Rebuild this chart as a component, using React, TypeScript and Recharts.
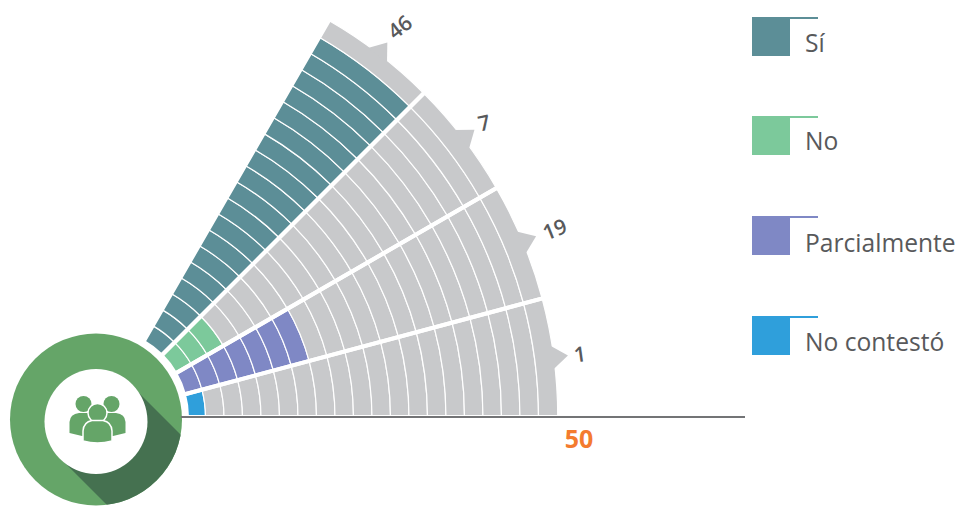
import React from "react";
import { PieChart, Pie } from "recharts";

// Survey answers, from the bottom wedge of the fan to the top one
const categories = ["No contestó", "Parcialmente", "No", "Sí"];
const answers = [1, 19, 7, 46];
const filledRings = [1, 7, 3, 19];
const wedgeColors = ["#2f9fdb", "#7f88c5", "#7cc99b", "#5c8e97"];
const labelTilt = [-8, -22, -12, -38];

const legendOrder = ["Sí", "No", "Parcialmente", "No contestó"];
const legendColors = ["#5c8e97", "#7cc99b", "#7f88c5", "#2f9fdb"];
const legendTop = [17, 116, 216, 316];
const legendBaseline = [52, 150, 252, 351];

const scaleMaxLabel = "50";
const RING_COUNT = 20;

const FONT = "'Open Sans', sans-serif";
const TEXT = "#58595b";
const EMPTY = "#c8c9cb";
const HUB = "#65a568";
const HUB_SHADOW = "#457150";

const FAN_X = 100;
const FAN_Y = 417;
const FAN_INNER = 87;
const RING_WIDTH = 18.5;
const FAN_OUTER = FAN_INNER + RING_COUNT * RING_WIDTH;

const polar = (r: number, deg: number) => ({
  x: FAN_X + r * Math.cos((deg * Math.PI) / 180),
  y: FAN_Y - r * Math.sin((deg * Math.PI) / 180),
});

const ringIndexes = Array.from({ length: RING_COUNT }, (_, i) => i);

const ringData = (ring: number) =>
  categories.map((name, i) => ({
    name,
    slot: 1,
    fill: ring < filledRings[i] ? wedgeColors[i] : EMPTY,
  }));

const dividerData = categories.map((name, i) => ({
  name,
  slot: 1,
  answer: answers[i],
  fill: "none",
}));

// Pointer on the outer arc with the answer count just beyond it.
// The baseline goes with the first pointer so that it sits above the wedge dividers.
const renderPointer = (props: any) => {
  const { midAngle, index } = props;
  const halfBase = (12 / FAN_OUTER) * (180 / Math.PI);
  const a = polar(FAN_OUTER - 1, midAngle + halfBase);
  const b = polar(FAN_OUTER - 1, midAngle - halfBase);
  const tip = polar(FAN_OUTER + 15, midAngle);
  const value = String(answers[index]);
  const at = polar(FAN_OUTER + 27 + (value.length - 1) * 8, midAngle);
  return (
    <g key={index}>
      {index === 0 && (
        <line x1={181} y1={FAN_Y} x2={745} y2={FAN_Y} stroke="#737476" strokeWidth={2} />
      )}
      <polygon
        points={`${a.x},${a.y} ${tip.x},${tip.y} ${b.x},${b.y}`}
        fill={EMPTY}
      />
      <text
        x={at.x}
        y={at.y}
        textAnchor="middle"
        dominantBaseline="central"
        transform={`rotate(${labelTilt[index]} ${at.x} ${at.y})`}
        fontFamily={FONT}
        fontSize={21}
        fontWeight={600}
        fill={TEXT}
      >
        {value}
      </text>
    </g>
  );
};

// Group-of-people glyph in the middle of the hub
const PeopleIcon = () => (
  <g fill={HUB}>
    <circle cx={83.5} cy={404} r={8} />
    <circle cx={111.5} cy={404} r={8} />
    <path d="M69.5 433 L69.5 422 Q70 414 79 413 L88 413 Q94 414 96 418 L96 436 L82 436 Z" />
    <path d="M125.5 433 L125.5 422 Q125 414 116 413 L107 413 Q101 414 99 418 L99 436 L113 436 Z" />
    <g stroke="#ffffff" strokeWidth={1.5}>
      <circle cx={97.5} cy={413} r={9.5} />
      <path d="M83 441 L83 431 Q83.5 422 92 420.5 L103 420.5 Q111.5 422 112 431 L112 441 Q97.5 445 83 441 Z" />
    </g>
  </g>
);

export default function App() {
  return (
    <div style={{ position: "absolute", left: 0, top: 0, width: 957, height: 506 }}>
      <PieChart width={957} height={506} margin={{ top: 0, right: 0, bottom: 0, left: 0 }}>
        <defs>
          <clipPath id="hubClip">
            <circle cx={96} cy={419.5} r={86} />
          </clipPath>
        </defs>
        {ringIndexes.map((ring) => (
          <Pie
            key={ring}
            data={ringData(ring)}
            dataKey="slot"
            cx={FAN_X}
            cy={FAN_Y}
            startAngle={0}
            endAngle={60}
            innerRadius={FAN_INNER + ring * RING_WIDTH}
            outerRadius={FAN_INNER + (ring + 1) * RING_WIDTH + (ring === RING_COUNT - 1 ? 0.75 : 0)}
            stroke="#ffffff"
            strokeWidth={1.2}
            isAnimationActive={false}
          />
        ))}
        <Pie
          data={dividerData}
          dataKey="slot"
          cx={FAN_X}
          cy={FAN_Y}
          startAngle={0}
          endAngle={60}
          innerRadius={FAN_INNER}
          outerRadius={FAN_OUTER + 4}
          stroke="#ffffff"
          strokeWidth={4}
          label={renderPointer}
          labelLine={false}
          isAnimationActive={false}
        />

        <text
          x={579}
          y={448}
          textAnchor="middle"
          fontFamily={FONT}
          fontSize={25}
          fontWeight={700}
          fill="#f47b2e"
        >
          {scaleMaxLabel}
        </text>

        {/* Round badge with its long cast shadow */}
        <circle cx={96} cy={419.5} r={86} fill={HUB} />
        <polygon points="132,386 232,486 160,558 60,458" fill={HUB_SHADOW} clipPath="url(#hubClip)" />
        <ellipse cx={96} cy={421.5} rx={51.5} ry={52.5} fill="#ffffff" />
        <PeopleIcon />

        {/* Key */}
        {legendOrder.map((name, i) => (
          <g key={name}>
            <rect x={752} y={legendTop[i]} width={38} height={39} fill={legendColors[i]} />
            <rect x={790} y={legendTop[i]} width={28} height={2} fill={legendColors[i]} />
            <text x={805} y={legendBaseline[i]} fontFamily={FONT} fontSize={24.6} fill={TEXT}>
              {name}
            </text>
          </g>
        ))}
      </PieChart>
    </div>
  );
}
